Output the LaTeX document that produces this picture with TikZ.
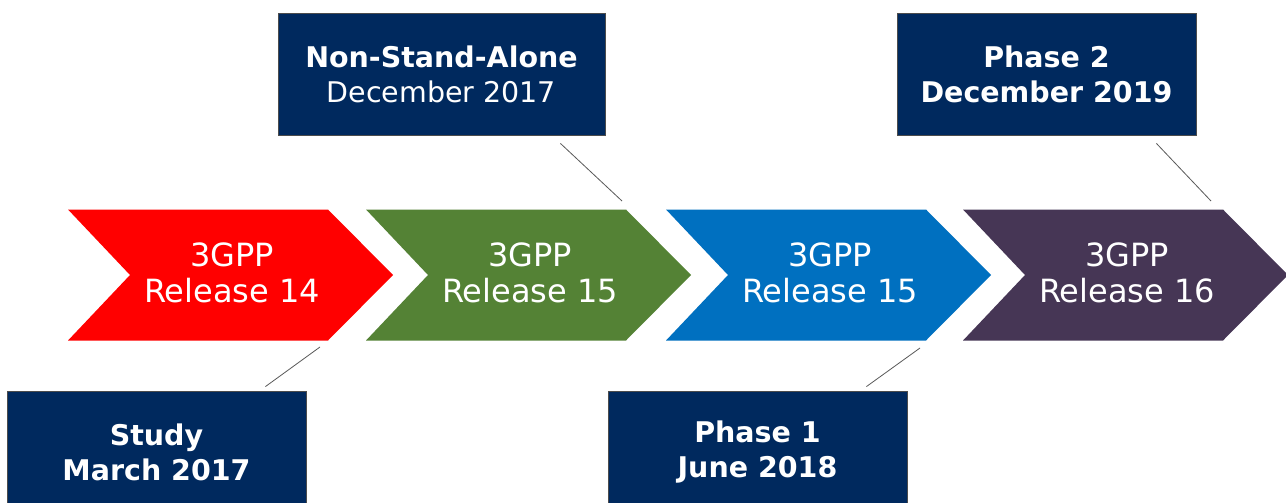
\documentclass[tikz,border=0pt]{standalone}
\usepackage{fontspec}
\setmainfont{DejaVu Sans}
\definecolor{relred}{RGB}{255,0,0}
\definecolor{relgreen}{RGB}{84,130,53}
\definecolor{relblue}{RGB}{0,112,192}
\definecolor{relpurple}{RGB}{70,54,85}
\definecolor{navy}{RGB}{0,41,94}
\tikzset{
    datebox/.style={draw=black!70, line width=0.8pt, fill=navy, text=white, minimum height=122pt, inner sep=0pt, align=center, font=\fontsize{28.5}{35}\selectfont\bfseries},
    reltext/.style={text=white, align=center, font=\fontsize{32}{36}\selectfont},
    link/.style={draw=black!65, line width=0.8pt}
}
\begin{document}
\begin{tikzpicture}[x=1pt, y=-1pt]
    \clip (0,0) rectangle (1286,503);
    \fill[white] (0,0) rectangle (1286,503);
    
    % release chevrons
    \foreach \x/\col/\rel/\nm in {68/relred/14/r14, 366/relgreen/15/r15a, 666/relblue/15/r15b, 963/relpurple/16/r16} {
        \fill[\col] (\x,209.5) -- ++(260,0) -- ++(65,65.5) -- ++(-65,65.5) -- ++(-260,0) -- ++(62,-65.5) -- cycle;
        \node[reltext] (\nm) at (\x+164,273) {3GPP\\Release \rel};
    }
    
    % milestone boxes
    \node[datebox, minimum width=327pt] (nsa) at (441.5,74) {Non-Stand-Alone\\\mdseries December 2017};
    \node[datebox, minimum width=299pt] (ph2) at (1046.5,74) {Phase 2\\December 2019};
    \node[datebox, minimum width=299pt] (study) at (156.5,452) {Study\\March 2017};
    \node[datebox, minimum width=299pt] (ph1) at (757.5,452) {Phase 1\\June 2018};
    
    \coordinate (nsa-end) at (622,201);
    \coordinate (ph2-end) at (1211,201);
    \coordinate (study-end) at (320,347);
    \coordinate (ph1-end) at (920,348);
    \draw[link] ([shift={(-45,8)}]nsa.south east) -- (nsa-end);
    \draw[link] ([shift={(-40,8)}]ph2.south east) -- (ph2-end);
    \draw[link] ([shift={(-41,-4)}]study.north east) -- (study-end);
    \draw[link] ([shift={(-41,-4)}]ph1.north east) -- (ph1-end);
\end{tikzpicture}
\end{document}
